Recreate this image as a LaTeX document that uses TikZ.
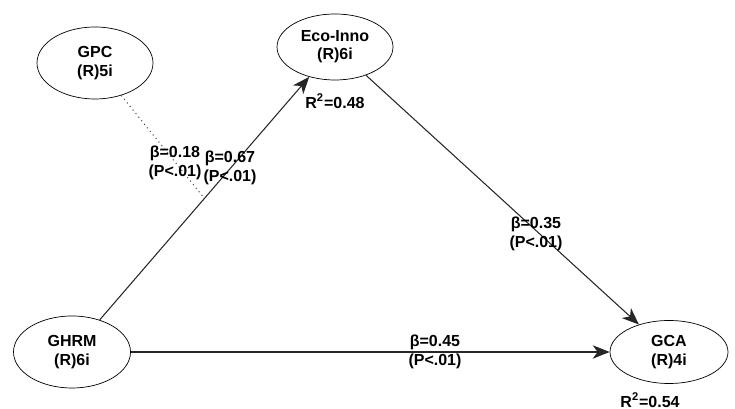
\documentclass[tikz,border=0pt]{standalone}
\usepackage{fontspec}
\setmainfont{Liberation Sans}
\usetikzlibrary{arrows.meta,shapes.geometric}

\begin{document}
\begin{tikzpicture}[
  font=\fontsize{9.1}{10.4}\selectfont\bfseries,
  lv/.style={ellipse, draw, thin, inner sep=0pt, align=center},
  lbl/.style={align=center, inner sep=0pt},
  edge/.style={-{Stealth[length=0.34cm, width=0.27cm, inset=0.1cm]}, black!85, semithick},
  moder/.style={dotted, black!70, semithick}
]
  \useasboundingbox (0,0) rectangle (14.7,8.18);

  \node[lv, minimum width=2.32cm, minimum height=1.44cm] (gpc)  at (1.90, 6.92) {GPC\\(R)5i};
  \node[lv, minimum width=2.32cm, minimum height=1.32cm] (eco)  at (6.70, 7.24) {Eco-Inno\\(R)6i};
  \node[lv, minimum width=2.34cm, minimum height=1.44cm] (ghrm) at (1.44, 1.14) {GHRM\\(R)6i};
  \node[lv, minimum width=2.36cm, minimum height=1.26cm] (gca)  at (13.38, 1.14) {GCA\\(R)4i};

  \node[lbl] (r2eco) at (6.70, 6.16) {R\textsuperscript{2}=0.48};
  \node[lbl] (r2gca) at (13.00, 0.18) {R\textsuperscript{2}=0.54};

  \draw[edge] (ghrm) -- coordinate[pos=0.5] (mod) (eco);
  \draw[edge] (eco) -- (gca);
  \draw[edge] (ghrm) -- (gca);
  \draw[moder] (gpc) -- (mod);

  \node[lbl] (b18) at (3.50, 4.92) {β=0.18\\(P<.01)};
  \node[lbl] (b67) at (4.60, 4.82) {β=0.67\\(P<.01)};
  \node[lbl] (b35) at (10.72, 3.50) {β=0.35\\(P<.01)};
  \node[lbl] (b45) at (8.70, 1.14) {β=0.45\\(P<.01)};
\end{tikzpicture}
\end{document}
